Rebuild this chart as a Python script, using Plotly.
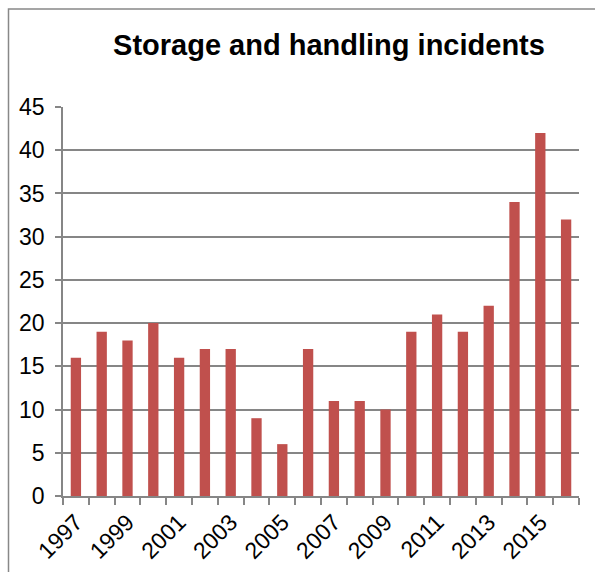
import plotly.graph_objects as go

years = list(range(1997, 2017))
incidents = [16, 19, 18, 20, 16, 17, 17, 9, 6, 17, 11, 11, 10, 19, 21, 19, 22, 34, 42, 32]
tick_years = [1997, 1999, 2001, 2003, 2005, 2007, 2009, 2011, 2013, 2015]
y_ticks = [0, 5, 10, 15, 20, 25, 30, 35, 40, 45]

W, H = 595, 572
L, R, T, B = 63, 16, 107, 76
pw, ph = W - L - R, H - T - B

fig = go.Figure()
fig.add_trace(go.Bar(x=years, y=incidents, marker=dict(color="#C0504D", line=dict(width=0)),
                     width=0.4))

grid = "#868686"
fig.update_layout(
    width=W, height=H,
    margin=dict(l=L, r=R, t=T, b=B, pad=0, autoexpand=False),
    paper_bgcolor="white", plot_bgcolor="white",
    font=dict(family="Liberation Sans, Arial, sans-serif", size=23, color="black"),
    title=dict(text="<b>Storage and handling incidents</b>", x=329 / W, xanchor="center",
               y=1 - 45 / H, yanchor="middle", xref="container",
               yref="container", font=dict(size=29, color="black")),
    showlegend=False,
    xaxis=dict(range=[1996.5, 2016.5], tickmode="array", tickvals=tick_years,
               ticktext=[str(y) for y in tick_years], tickangle=-45, ticks="",
               showgrid=False, showline=True, linecolor=grid, linewidth=1.5,
               zeroline=False, ticklabelstandoff=2, automargin=False,
               minor=dict(tickmode="linear", tick0=1996.5, dtick=1, ticks="outside",
                          ticklen=7, tickcolor=grid, tickwidth=1.5, showgrid=False)),
    yaxis=dict(range=[0, 45], tickmode="array", tickvals=y_ticks, ticks="outside",
               ticklen=6, tickcolor=grid, tickwidth=1.5, showgrid=True, gridcolor=grid,
               gridwidth=1.5, showline=True, linecolor=grid, linewidth=1.5, zeroline=False,
               ticklabelstandoff=6, automargin=False),
)

# outer chart border (cropped at right/bottom)
fig.add_shape(type="rect", xref="paper", yref="paper",
              x0=(8.5 - L) / pw, x1=(W + 20 - L) / pw,
              y0=-(B + 20) / ph, y1=1 + (T - 9) / ph,
              line=dict(color="#888888", width=1.5), layer="below")

fig.write_html("out.html")
